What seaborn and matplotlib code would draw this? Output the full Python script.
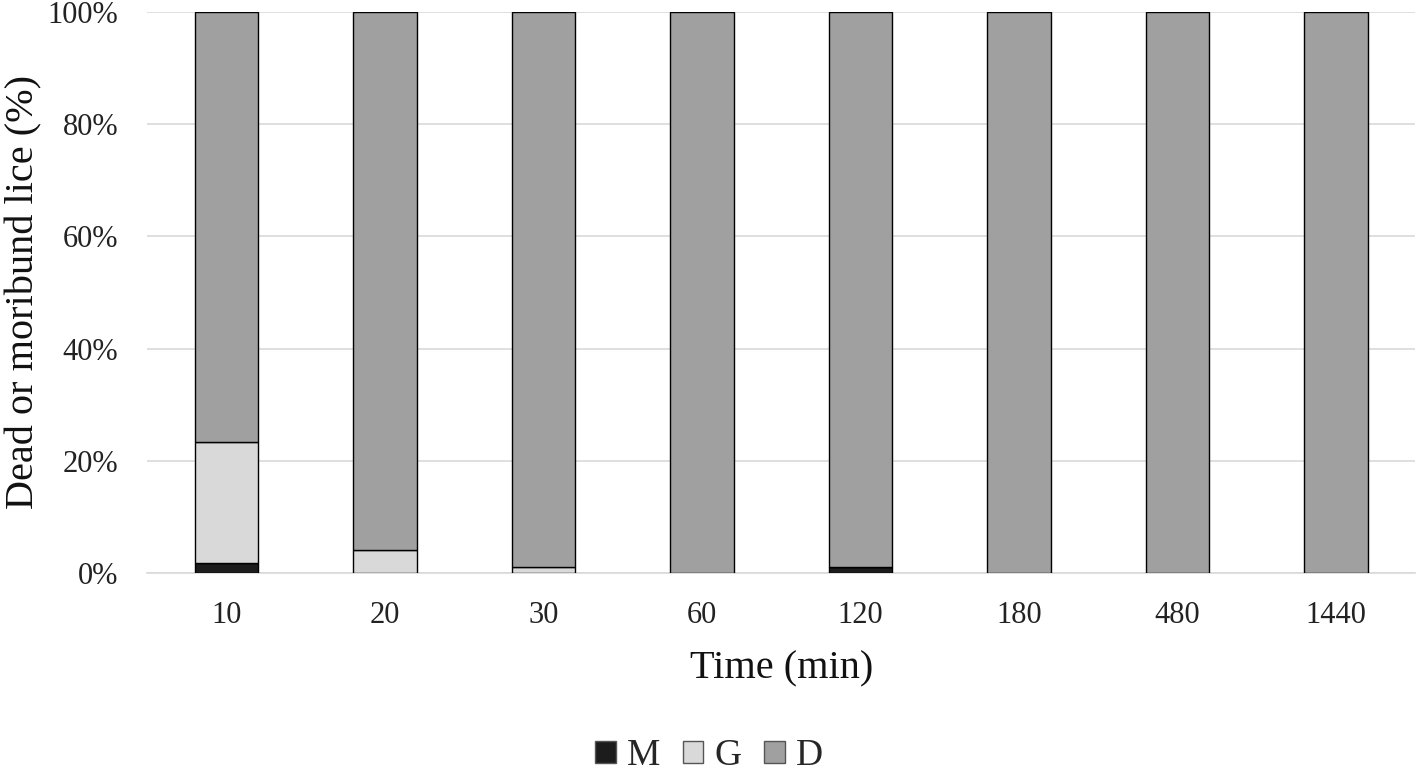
import matplotlib
matplotlib.use("Agg")
import matplotlib.pyplot as plt
import seaborn as sns
import numpy as np
import pandas as pd
from matplotlib.patches import Patch
from matplotlib.ticker import FuncFormatter

times = ["10", "20", "30", "60", "120", "180", "480", "1440"]
M = [1.8, 0.0, 0.0, 0.0, 1.0, 0.0, 0.0, 0.0]
G = [21.6, 4.1, 1.0, 0.0, 0.0, 0.0, 0.0, 0.0]
D = [100 - m - g for m, g in zip(M, G)]

colors = {"M": "#1c1c1c", "G": "#d9d9d9", "D": "#a0a0a0"}

sns.set_theme(style="white")
plt.rcParams["font.family"] = ["Liberation Serif", "DejaVu Serif"]

fig = plt.figure(figsize=(14.18, 7.74), dpi=100)
ax = fig.add_axes([0.104, 0.2597, 0.894, 0.7248])

df = pd.DataFrame({"time": times, "M": M, "G": G, "D": D})
bottom = np.zeros(len(times))
for key in ["M", "G", "D"]:
    sns.barplot(data=df, x="time", y=key, ax=ax, color=colors[key],
                width=0.40, bottom=bottom, edgecolor="black", linewidth=1.0,
                saturation=1, zorder=3)
    bottom = bottom + np.array(df[key])

ax.set_xlim(-0.5, 7.5)
ax.set_ylim(0, 100)
ax.set_yticks([0, 20, 40, 60, 80, 100])
ax.yaxis.set_major_formatter(FuncFormatter(lambda v, p: f"{int(v)}%"))
ax.grid(axis="y", color="#d9d9d9", linewidth=1.2, zorder=0)
ax.set_axisbelow(True)
for s in ["top", "right", "left"]:
    ax.spines[s].set_visible(False)
ax.spines["bottom"].set_color("#d9d9d9")
ax.spines["bottom"].set_linewidth(1.2)
ax.tick_params(axis="both", length=0, labelsize=22, colors="#222222")
ax.tick_params(axis="x", pad=20)
ax.tick_params(axis="y", pad=21)
ax.set_xlabel("Time (min)", fontsize=29, labelpad=15, color="#111111")
ax.set_ylabel("Dead or moribund lice (%)", fontsize=29, color="#111111")
ax.yaxis.set_label_coords(-0.083, 0.5)

handles = [Patch(facecolor=colors[k], edgecolor="#555555", linewidth=1.0, label=k) for k in ["M", "G", "D"]]
fig.legend(handles=handles, loc="center", bbox_to_anchor=(0.5, 1 - 756 / 774), ncol=3,
           frameon=False, fontsize=27, handlelength=0.55, handleheight=0.55,
           handletextpad=0.3, columnspacing=0.6)

fig.savefig("out.png", dpi=100)
